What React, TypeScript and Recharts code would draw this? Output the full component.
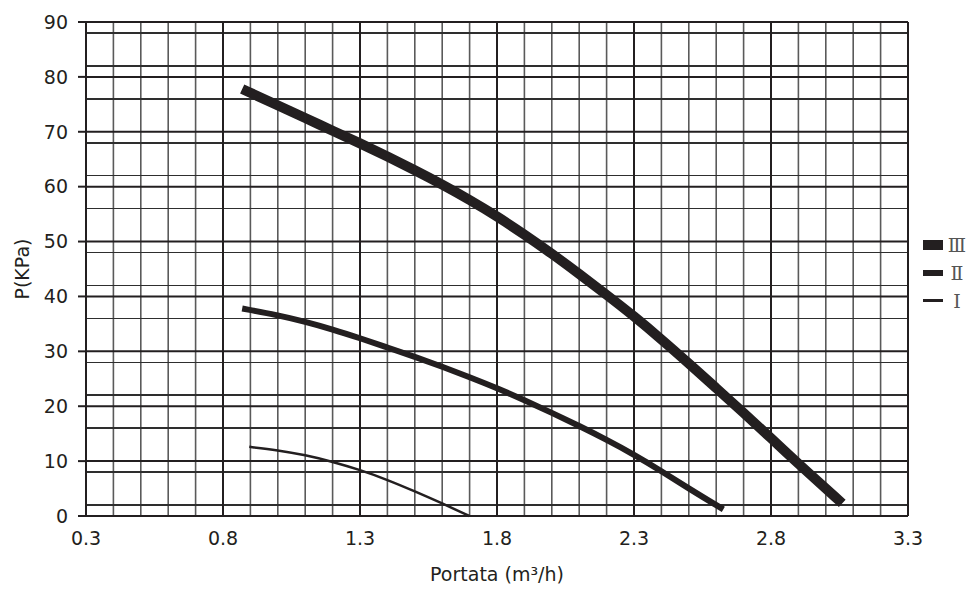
import { LineChart, Line, XAxis, YAxis, CartesianGrid } from "recharts";

// speed III / II / I curves
const flowIII = [0.87, 1.0, 1.1, 1.2, 1.3, 1.4, 1.5, 1.6, 1.7, 1.8, 1.9, 2.0, 2.1, 2.2, 2.3, 2.4, 2.5, 2.6, 2.7, 2.8, 2.9, 3.06];
const pressureIII = [77.8, 74.8, 72.5, 70.2, 67.9, 65.5, 63.0, 60.4, 57.6, 54.6, 51.3, 47.8, 44.1, 40.3, 36.4, 32.2, 27.8, 23.3, 18.8, 14.2, 9.5, 2.3];

const flowII = [0.87, 1.0, 1.1, 1.2, 1.3, 1.4, 1.5, 1.6, 1.7, 1.8, 1.9, 2.0, 2.1, 2.2, 2.3, 2.4, 2.5, 2.626];
const pressureII = [37.8, 36.6, 35.4, 34.0, 32.4, 30.7, 29.0, 27.2, 25.3, 23.3, 21.1, 18.8, 16.4, 13.9, 11.2, 8.2, 5.0, 1.2];

const flowI = [0.896, 1.0, 1.1, 1.2, 1.3, 1.4, 1.5, 1.6, 1.699];
const pressureI = [12.6, 12.0, 11.1, 9.9, 8.4, 6.6, 4.5, 2.3, 0];

const seriesNames = ["Ⅲ", "Ⅱ", "Ⅰ"];

const xTicks = [0.3, 0.8, 1.3, 1.8, 2.3, 2.8, 3.3];
const yTicks = [0, 10, 20, 30, 40, 50, 60, 70, 80, 90];

// minor grid every 0.1 m3/h and every 2 kPa
const xMinor = Array.from({ length: 31 }, (_, i) => Math.round((0.3 + i * 0.1) * 10) / 10).filter(
  (v) => !xTicks.includes(v)
);
const yMinor = Array.from({ length: 46 }, (_, i) => i * 2).filter((v) => v % 10 !== 0);

const toPoints = (xs: number[], ys: number[]) => xs.map((x, i) => ({ x, p: ys[i] }));

const dataIII = toPoints(flowIII, pressureIII);
const dataII = toPoints(flowII, pressureII);
const dataI = toPoints(flowI, pressureI);

const ink = "#231f20";
const tickFont = { fontFamily: "DejaVu Sans, sans-serif", fontSize: 19, fill: ink };

const legendRows = [
  { name: seriesNames[0], mid: 245, h: 10 },
  { name: seriesNames[1], mid: 273, h: 6 },
  { name: seriesNames[2], mid: 300.5, h: 3 },
];

export default function App() {
  return (
    <div style={{ position: "fixed", left: 0, top: 0, width: 968, height: 589, overflow: "hidden", background: "#fff" }}>
      <style>{"html,body{overflow:hidden}"}</style>
      <div style={{ position: "absolute", left: 8, top: 8 }}>
        <LineChart width={960} height={581} margin={{ top: 14, right: 60, left: 0, bottom: 0 }}>
          <CartesianGrid horizontal={false} verticalValues={xMinor} stroke="#5a5a5a" strokeWidth={1.6} />
          <CartesianGrid
            vertical={false}
            horizontalValues={yMinor}
            stroke="#2e2e2e"
            strokeWidth={1.5}
            shapeRendering="crispEdges"
          />
          <CartesianGrid horizontalValues={yTicks} verticalValues={xTicks} stroke={ink} strokeWidth={2} />
          <XAxis
            type="number"
            dataKey="x"
            domain={[0.3, 3.3]}
            ticks={xTicks}
            allowDataOverflow
            height={73}
            tickLine={false}
            tickSize={0}
            tickMargin={16}
            axisLine={{ stroke: ink, strokeWidth: 2 }}
            tick={tickFont}
            label={{
              value: "Portata (m³/h)",
              position: "insideBottom",
              offset: 8,
              style: { ...tickFont, textAnchor: "middle" },
            }}
          />
          <YAxis
            type="number"
            dataKey="p"
            domain={[0, 90]}
            ticks={yTicks}
            width={78}
            tickSize={8}
            tickMargin={10}
            tickLine={{ stroke: ink, strokeWidth: 2 }}
            axisLine={{ stroke: ink, strokeWidth: 2 }}
            tick={tickFont}
            label={{
              value: "P(KPa)",
              angle: -90,
              position: "insideLeft",
              offset: 14,
              style: { ...tickFont, textAnchor: "middle" },
            }}
          />
          <Line data={dataIII} dataKey="p" type="basis" stroke={ink} strokeWidth={10} dot={false} isAnimationActive={false} />
          <Line data={dataII} dataKey="p" type="basis" stroke={ink} strokeWidth={6} dot={false} isAnimationActive={false} />
          <Line data={dataI} dataKey="p" type="basis" stroke={ink} strokeWidth={2.5} dot={false} isAnimationActive={false} />
        </LineChart>
      </div>
      {legendRows.map((r) => (
        <div key={r.name}>
          <div
            style={{
              position: "absolute",
              left: 923,
              top: r.mid - r.h / 2,
              width: 20,
              height: r.h,
              background: ink,
            }}
          />
          <div
            style={{
              position: "absolute",
              left: 946,
              width: 22,
              top: r.mid - 14,
              height: 28,
              textAlign: "center",
              whiteSpace: "nowrap",
              fontFamily: "DejaVu Serif, serif",
              fontSize: 19,
              lineHeight: "28px",
              color: "#555",
            }}
          >
            {r.name}
          </div>
        </div>
      ))}
    </div>
  );
}
